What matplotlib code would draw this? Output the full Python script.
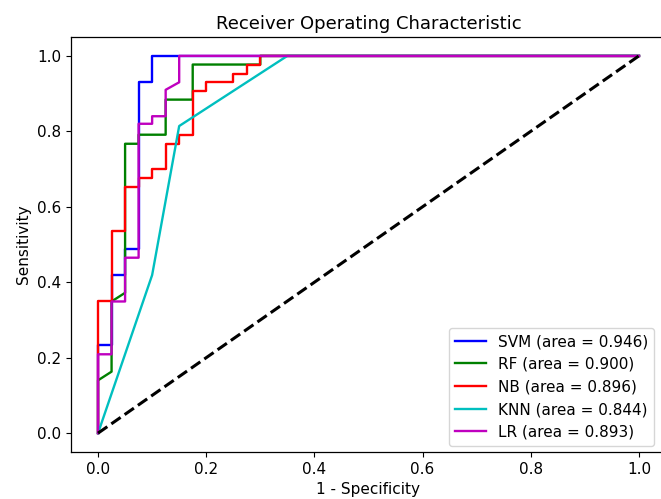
import matplotlib
matplotlib.use('Agg')
import matplotlib.pyplot as plt

# curvas ROC (fpr, tpr)
svm_fpr = [0, 0, 0.025, 0.025, 0.05, 0.05, 0.075, 0.075, 0.1, 0.1, 1]
svm_tpr = [0, 0.233, 0.233, 0.419, 0.419, 0.488, 0.488, 0.930, 0.930, 1.0, 1.0]

rf_fpr = [0, 0, 0.025, 0.025, 0.05, 0.05, 0.075, 0.075, 0.125, 0.125, 0.175, 0.175, 0.3, 0.3, 1]
rf_tpr = [0, 0.140, 0.163, 0.349, 0.372, 0.767, 0.767, 0.791, 0.791, 0.884, 0.884, 0.977, 0.977, 1.0, 1.0]

nb_fpr = [0, 0, 0.025, 0.025, 0.05, 0.05, 0.075, 0.075, 0.1, 0.1, 0.125, 0.125, 0.15, 0.15,
          0.175, 0.175, 0.2, 0.2, 0.25, 0.25, 0.275, 0.275, 0.3, 0.3, 1]
nb_tpr = [0, 0.349, 0.349, 0.535, 0.535, 0.653, 0.653, 0.677, 0.677, 0.700, 0.700, 0.767, 0.767, 0.791,
          0.791, 0.907, 0.907, 0.930, 0.930, 0.953, 0.953, 0.977, 0.977, 1.0, 1.0]

knn_fpr = [0, 0.1, 0.15, 0.35, 1]
knn_tpr = [0, 0.419, 0.814, 1.0, 1.0]

lr_fpr = [0, 0, 0.025, 0.025, 0.05, 0.05, 0.075, 0.075, 0.1, 0.1, 0.125, 0.125, 0.15, 0.15, 1]
lr_tpr = [0, 0.209, 0.209, 0.349, 0.349, 0.465, 0.465, 0.820, 0.820, 0.840, 0.840, 0.910, 0.930, 1.0, 1.0]

modelos = ['SVM', 'RF', 'NB', 'KNN', 'LR']
areas = [0.946, 0.900, 0.896, 0.844, 0.893]
cores = ['b', 'g', 'r', 'c', 'm']
curvas = [(svm_fpr, svm_tpr), (rf_fpr, rf_tpr), (nb_fpr, nb_tpr), (knn_fpr, knn_tpr), (lr_fpr, lr_tpr)]

plt.rcParams['font.size'] = 11

fig = plt.figure(figsize=(6.61, 4.99), dpi=100)
ax = fig.add_axes([71/661, 47/499, 595/661, 415/499])

for nome, area, cor, (fpr, tpr) in zip(modelos, areas, cores, curvas):
    ax.plot(fpr, tpr, color=cor, lw=1.7, label=f'{nome} (area = {area:.3f})')

ax.plot([0, 1], [0, 1], 'k--', lw=2.2)

ax.set_xlim(-0.05, 1.05)
ax.set_title('Receiver Operating Characteristic', fontsize=13)
ax.set_xlabel('1 - Specificity')
ax.set_ylabel('Sensitivity')
for lado in ['top', 'bottom', 'left', 'right']:
    ax.spines[lado].set_linewidth(0.9)
ax.legend(loc='lower right', bbox_to_anchor=(0.98, 0.015), borderaxespad=0)

fig.savefig('out.png', dpi=100)
